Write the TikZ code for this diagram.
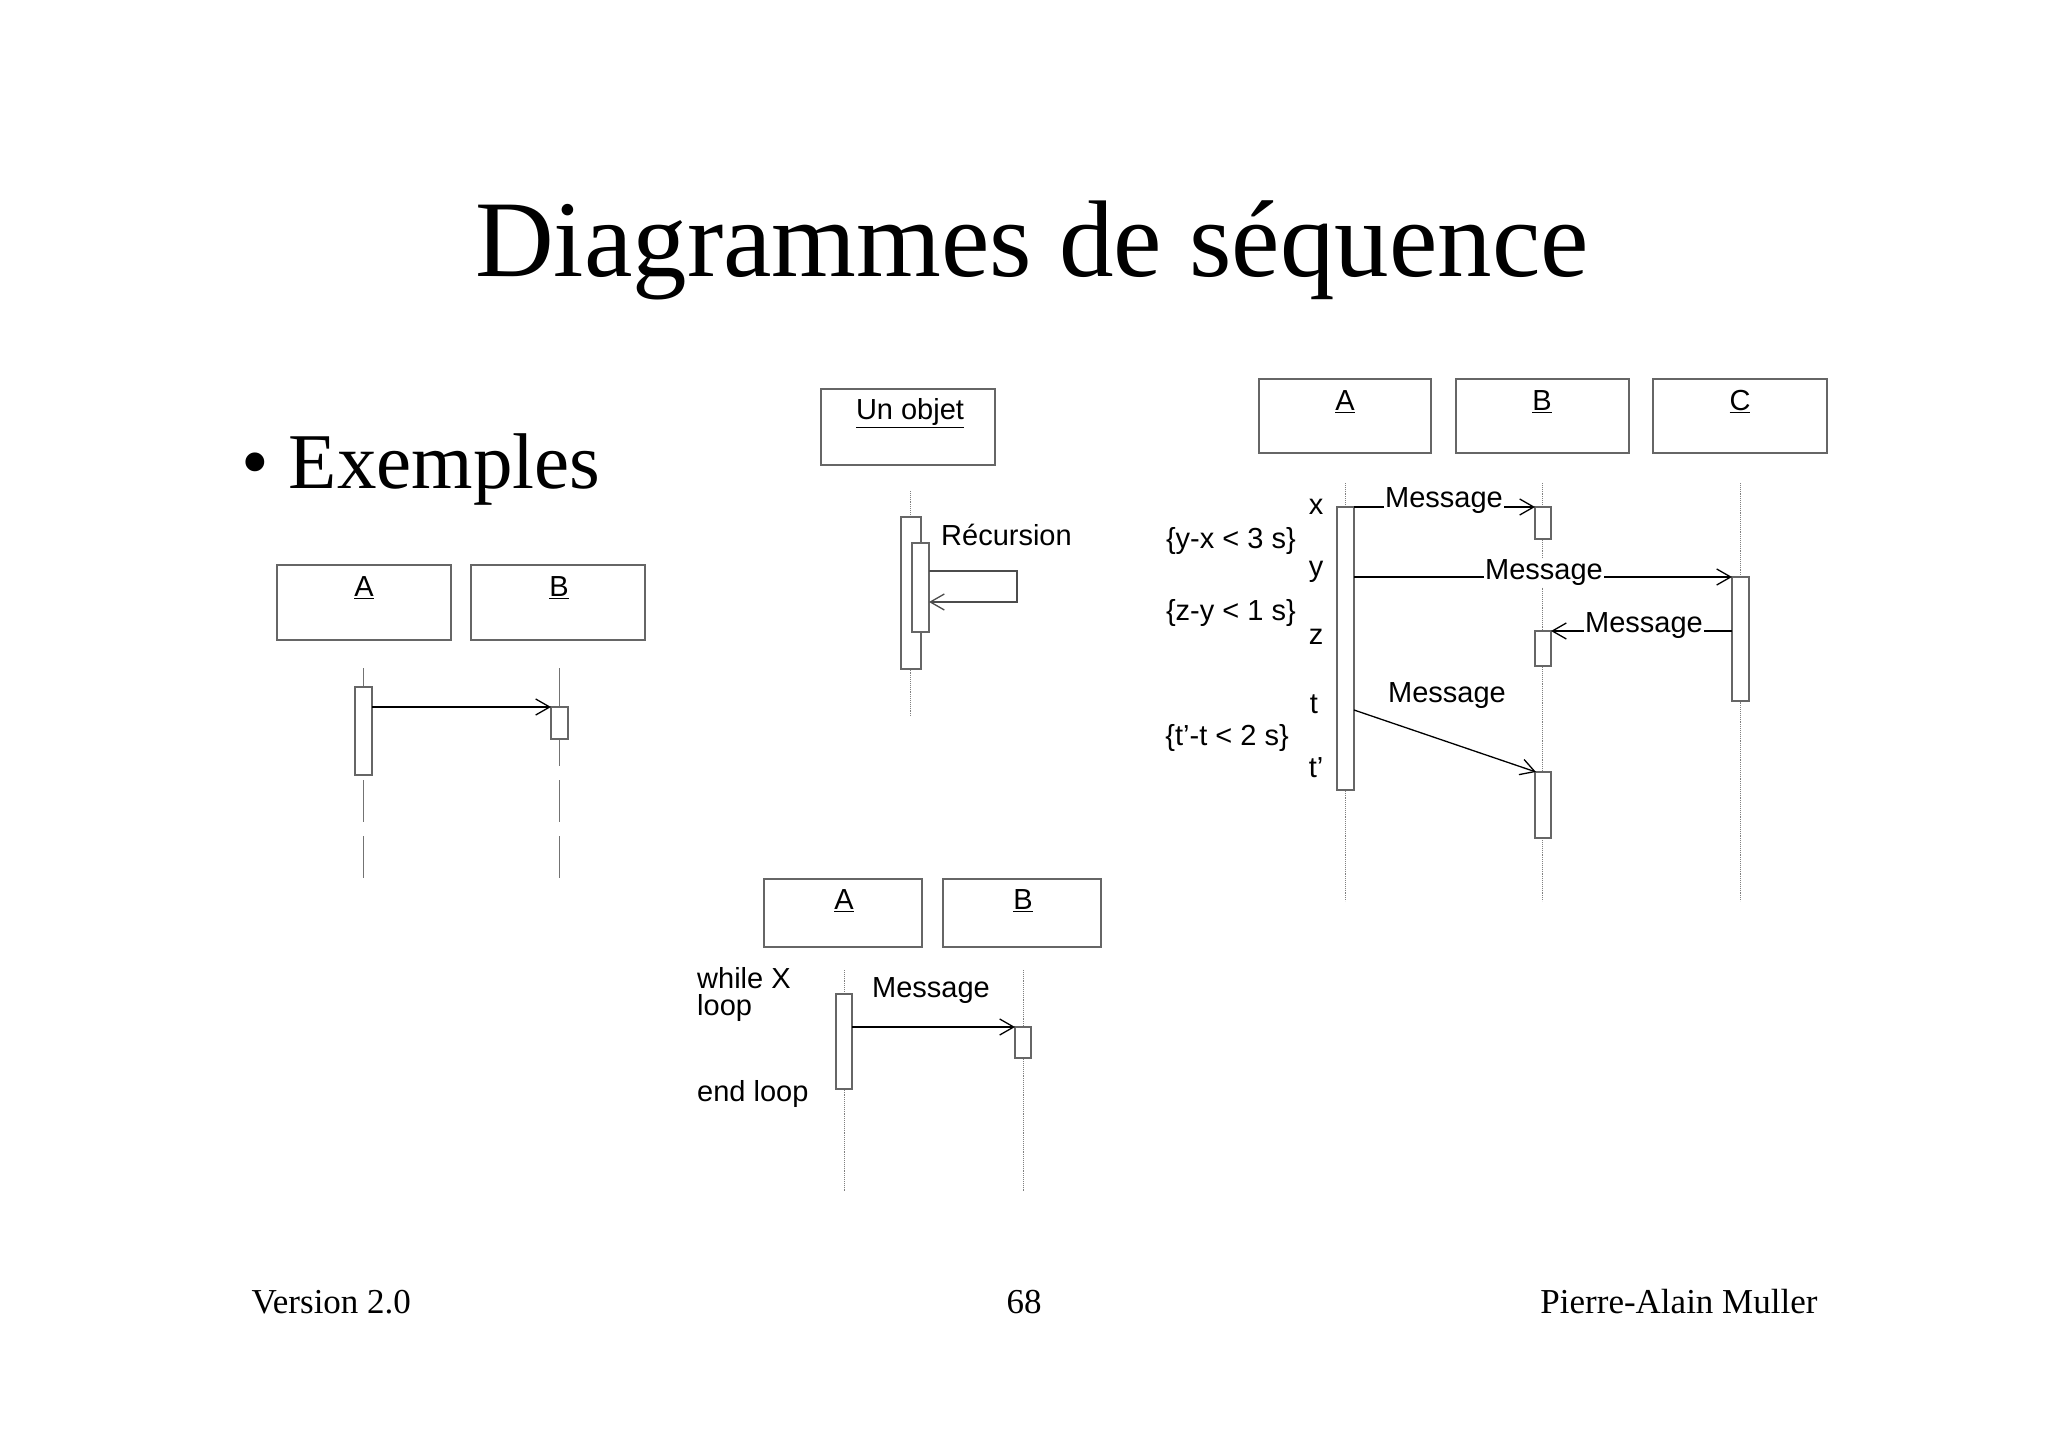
\documentclass[tikz,border=0pt]{standalone}
\usepackage{fontspec}
\setmainfont{Liberation Serif}
\newfontfamily\ar{Liberation Sans}
\usetikzlibrary{arrows.meta}
\begin{document}
\begin{tikzpicture}[x=1pt,y=-1pt,
  obj/.style={draw=black!60,line width=1.2pt},
  act/.style={draw=black!60,fill=white,line width=1.2pt},
  lbl/.style={font=\ar\fontsize{29}{32}\selectfont,inner sep=1pt},
  msg/.style={line width=1.3pt,-{Straight Barb[length=14pt,width=16pt,line width=1.3pt]}},
  dline/.style={draw=black!55,line width=1pt,dash pattern=on 42pt off 14pt},
  lline/.style={draw=black!50,line width=0.9pt,densely dotted}]
\useasboundingbox (0,0) rectangle (2048,1447);
\node[font=\fontsize{109}{120}\selectfont] (title) at (1032,250) {Diagrammes de séquence};
\node[font=\fontsize{79}{90}\selectfont,anchor=west] (ex) at (238,470) {\textbullet\ Exemples};
\node[font=\fontsize{35}{40}\selectfont,anchor=base west] (v) at (248,1313) {Version 2.0};
\node[font=\fontsize{35}{40}\selectfont,anchor=base] (p) at (1024,1313) {68};
\node[font=\fontsize{35}{40}\selectfont,anchor=base east] (au) at (1821,1313) {Pierre-Alain Muller};
% diagram 1
\draw[obj] (277,565) rectangle (451,640); \node[lbl] (a1) at (364,588) {\underline{A}};
\draw[obj] (471,565) rectangle (645,640); \node[lbl] (b1) at (559,588) {\underline{B}};
\draw[dline] (363,668) -- (363,878);
\draw[dline] (559,668) -- (559,878);
\draw[act] (355,687) rectangle (372,775);
\draw[act] (551,707) rectangle (568,739);
\coordinate (m1s) at (372,707); \coordinate (m1e) at (551,707);
\draw[msg] (m1s) -- (m1e);
% diagram 2
\draw[obj] (821,389) rectangle (995,465); \node[lbl] (u) at (910,413) {\underline{Un objet}};
\draw[lline] (910,491) -- (910,716);
\draw[act] (901,517) rectangle (921,669);
\draw[act] (912,543) rectangle (929,632);
\coordinate (r1) at (929,571); \coordinate (r2) at (929,602);
\draw[line width=1.3pt,draw=black!70,-{Straight Barb[length=14pt,width=16pt,line width=1.3pt]}] (r1) -- (1017,571) -- (1017,602) -- (r2);
\node[lbl,anchor=west] (rec) at (940,535) {Récursion};
% diagram 3
\draw[obj] (1259,379) rectangle (1431,453); \node[lbl] (a3) at (1345,402) {\underline{A}};
\draw[obj] (1456,379) rectangle (1629,453); \node[lbl] (b3) at (1542,402) {\underline{B}};
\draw[obj] (1653,379) rectangle (1827,453); \node[lbl] (c3) at (1740,402) {\underline{C}};
\draw[lline] (1345,483) -- (1345,901);
\draw[lline] (1542,483) -- (1542,901);
\draw[lline] (1740,483) -- (1740,901);
\draw[act] (1337,507) rectangle (1354,790);
\draw[act] (1535,507) rectangle (1551,539);
\draw[act] (1732,577) rectangle (1749,701);
\draw[act] (1535,631) rectangle (1551,666);
\draw[act] (1535,772) rectangle (1551,838);
\draw[msg] (1354,507) -- (1535,507);
\node[lbl,fill=white] (mx) at (1444,501) {Message};
\draw[msg] (1354,577) -- (1732,577);
\node[lbl,fill=white] (my) at (1544,573) {Message};
\draw[msg] (1732,631) -- (1551,631);
\node[lbl,fill=white] (mz) at (1644,626) {Message};
\draw[msg] (1354,710) -- (1536,772);
\node[lbl] (mt) at (1447,696) {Message};
\node[lbl] (tx) at (1316,507) {x};
\node[lbl] (ty) at (1316,572) {y};
\node[lbl] (tz) at (1316,637) {z};
\node[lbl] (tt) at (1314,704) {t};
\node[lbl] (tt2) at (1316,768) {t’};
\node[lbl,anchor=east] (c1) at (1297,541) {\{y-x < 3 s\}};
\node[lbl,anchor=east] (c2) at (1297,613) {\{z-y < 1 s\}};
\node[lbl,anchor=east] (c3t) at (1290,738) {\{t’-t < 2 s\}};
% diagram 4
\draw[obj] (764,879) rectangle (922,947); \node[lbl] (a4) at (844,901) {\underline{A}};
\draw[obj] (943,879) rectangle (1101,947); \node[lbl] (b4) at (1023,901) {\underline{B}};
\draw[lline] (844,970) -- (844,1191);
\draw[lline] (1023,970) -- (1023,1191);
\draw[act] (836,994) rectangle (852,1089);
\draw[act] (1015,1027) rectangle (1031,1058);
\draw[msg] (852,1027) -- (1015,1027);
\node[lbl] (m4) at (931,991) {Message};
\node[lbl,anchor=west] (w1) at (696,978) {while X};
\node[lbl,anchor=west] (w2) at (696,1008) {loop};
\node[lbl,anchor=west] (w3) at (696,1094) {end loop};
\end{tikzpicture}
\end{document}
